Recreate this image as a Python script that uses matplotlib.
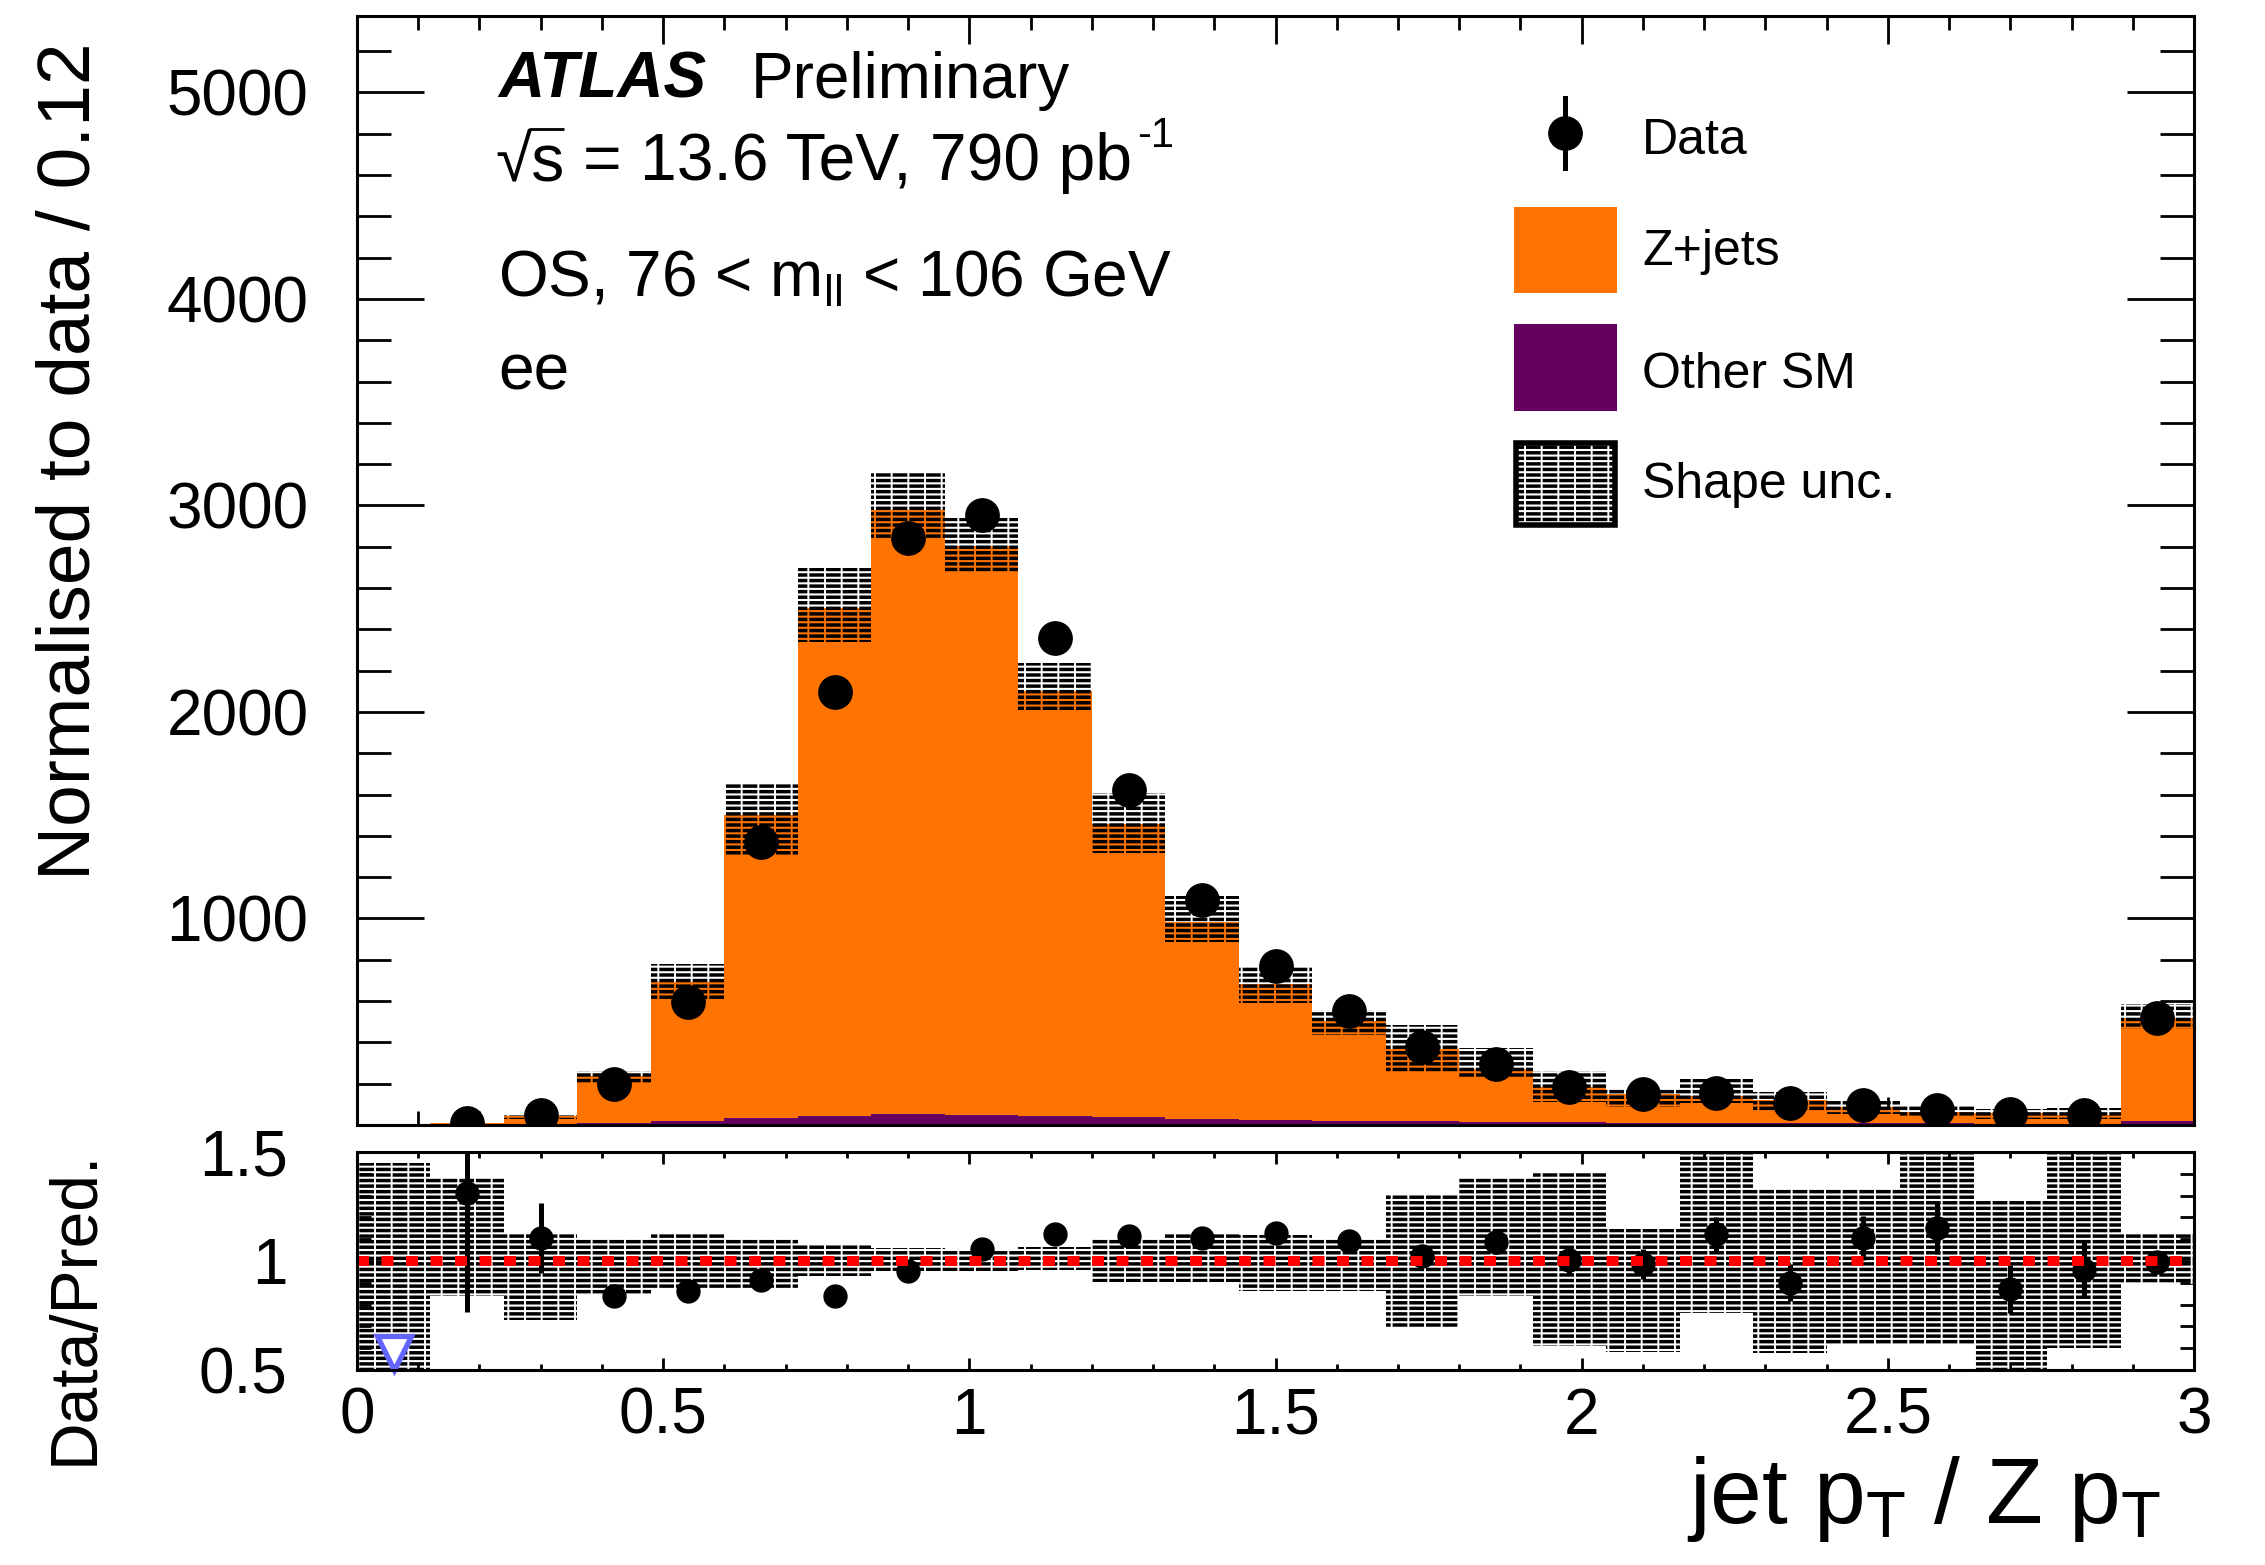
import numpy as np
import matplotlib
matplotlib.use("Agg")
import matplotlib.pyplot as plt
from matplotlib.patches import Rectangle
from matplotlib.lines import Line2D
from matplotlib.transforms import Affine2D
from matplotlib.textpath import TextPath
from matplotlib.font_manager import FontProperties
from matplotlib.ticker import MultipleLocator, FixedLocator, FixedFormatter

plt.rcParams['font.family'] = ['Liberation Sans', 'DejaVu Sans']
plt.rcParams['mathtext.fontset'] = 'custom'
plt.rcParams['mathtext.rm'] = 'Liberation Sans'
plt.rcParams['mathtext.it'] = 'Liberation Sans:italic'
plt.rcParams['mathtext.bf'] = 'Liberation Sans:bold'
plt.rcParams['hatch.linewidth'] = 2.5

# ---------------- data ----------------
bin_edges = np.round(np.arange(26) * 0.12, 2)
zjets = np.array([1, 5, 36, 228, 672, 1468, 2460, 2928, 2755, 2055, 1420, 955, 663,
                  485, 352, 255, 171, 140, 128, 110, 77, 54, 53, 43, 500], float)
other_sm = np.array([2, 4, 6, 10, 20, 32, 45, 52, 50, 45, 38, 30, 22,
                     20, 18, 16, 14, 12, 11, 10, 9, 8, 7, 7, 20], float)
data = np.array([0, 11.8, 46.4, 200, 596, 1368, 2099, 2840, 2954, 2356, 1624, 1090, 772,
                 551, 378, 294, 186, 150, 156, 108, 95, 71.5, 52.3, 48, 518], float)
data_err = np.array([0, 4.9, 6.7, 9.5, 17, 30, 38, 45, 42, 32, 29, 25, 21,
                     18, 15, 14, 12, 10.6, 11, 10.2, 8.6, 7.4, 6.6, 6.5, 21], float)
shape_lo = np.array([0.45, 0.84, 0.73, 0.842, 0.872, 0.872, 0.933, 0.953, 0.953, 0.958, 0.902,
                     0.902, 0.861, 0.861, 0.695, 0.838, 0.611, 0.584, 0.761, 0.577, 0.615,
                     0.615, 0.45, 0.60, 0.896])
shape_hi = np.array([1.45, 1.38, 1.127, 1.10, 1.127, 1.104, 1.076, 1.061, 1.048, 1.065, 1.104,
                     1.125, 1.118, 1.104, 1.306, 1.383, 1.406, 1.148, 1.6, 1.333, 1.333,
                     1.6, 1.276, 1.6, 1.13])
main_yticks = [1000, 2000, 3000, 4000, 5000]
ratio_yticks = [0.5, 1.0, 1.5]
ratio_ylabels = ['0.5', '1', '1.5']
xticks = [0, 0.5, 1, 1.5, 2, 2.5, 3]
xticklabels = ['0', '0.5', '1', '1.5', '2', '2.5', '3']

centers = 0.5 * (bin_edges[:-1] + bin_edges[1:])
total = zjets + other_sm
ratio = data / total
ratio_err = data_err / total

# ---------------- figure ----------------
W, H = 2265, 1565
fig = plt.figure(figsize=(W / 100, H / 100), dpi=100)
px = Affine2D().scale(1 / W, -1 / H).translate(0, 1) + fig.transFigure

ORANGE = '#ff7300'
PURPLE = '#650060'
HATCH = '---'
GAPS = '|'


def thin_gaps(p):
    if hasattr(p, 'set_hatch_linewidth'):
        p.set_hatch_linewidth(1.4)
    return p


def hatched_band(a, hi, lo, z):
    a.stairs(hi, bin_edges, baseline=lo, fill=True, facecolor='none',
             edgecolor='black', hatch=HATCH, lw=0, zorder=z)


def gap_band(a, hi, lo, color, z):
    thin_gaps(a.stairs(hi, bin_edges, baseline=lo, fill=True, facecolor='none',
                       edgecolor=color, hatch=GAPS, lw=0, zorder=z))


L, R = 357, 2194
ax = fig.add_axes([L / W, 1 - 1125 / H, (R - L) / W, (1125 - 16) / H])
rax = fig.add_axes([L / W, 1 - 1370 / H, (R - L) / W, (1370 - 1152) / H])

# main panel
ax.stairs(other_sm, bin_edges, baseline=0, fill=True, color=PURPLE, lw=0, zorder=2)
ax.stairs(total, bin_edges, baseline=other_sm, fill=True, color=ORANGE, lw=0, zorder=2)
band_hi = total * shape_hi
band_lo = total * shape_lo
hatched_band(ax, band_hi, band_lo, 3)
gap_band(ax, band_hi, total, 'white', 3.1)
gap_band(ax, total, np.maximum(band_lo, other_sm), ORANGE, 3.1)
m = data > 0
ax.errorbar(centers[m], data[m], yerr=data_err[m], fmt='o', color='black', ms=24,
            elinewidth=3.6, capsize=0, zorder=5)
ax.set_xlim(0, 3)
ax.set_ylim(0, 5370)

# ratio panel
hatched_band(rax, shape_hi, shape_lo, 2)
gap_band(rax, shape_hi, shape_lo, 'white', 2.1)
ok = ratio >= 0.5
rax.errorbar(centers[ok], ratio[ok], yerr=ratio_err[ok], fmt='o', color='black', ms=16.5,
             elinewidth=3.6, capsize=0, zorder=4)
low = ~ok
rax.plot(centers[low], np.full(low.sum(), 0.5 + 0.08), linestyle='none', marker='v',
         ms=25, mfc='white', mec='#6464ff', mew=3.8, clip_on=False, zorder=6)
rax.axhline(1.0, color='#ff0000', lw=7.2, linestyle=(0, (1.2, 1.25)),
            dash_capstyle='butt', zorder=5)
rax.set_xlim(0, 3)
rax.set_ylim(0.5, 1.5)

# ticks / spines
for a in (ax, rax):
    for s in a.spines.values():
        s.set_linewidth(2.2)
        s.set_zorder(10)
    a.tick_params(which='both', direction='in', top=True, right=True, width=2,
                  labelsize=46)
    a.xaxis.set_major_locator(MultipleLocator(0.5))
    a.xaxis.set_minor_locator(MultipleLocator(0.1))

ax.yaxis.set_major_locator(FixedLocator(main_yticks))
ax.yaxis.set_minor_locator(MultipleLocator(200))
ax.tick_params(axis='x', which='major', length=20, labelbottom=False)
ax.tick_params(axis='x', which='minor', length=10)
ax.tick_params(axis='y', which='major', length=48, pad=35)
ax.tick_params(axis='y', which='minor', length=24.5)

rax.yaxis.set_major_locator(FixedLocator(ratio_yticks))
rax.yaxis.set_major_formatter(FixedFormatter(ratio_ylabels))
rax.yaxis.set_minor_locator(MultipleLocator(0.1))
rax.xaxis.set_major_locator(FixedLocator(xticks))
rax.xaxis.set_major_formatter(FixedFormatter(xticklabels))
rax.tick_params(axis='x', which='major', length=8.6, pad=12)
rax.tick_params(axis='x', which='minor', length=4.3)
rax.tick_params(axis='y', which='major', length=21, pad=50)
rax.tick_params(axis='y', which='minor', length=10)

# axis titles
fig.text(70, 43, 'Normalised to data / 0.12', transform=px, rotation=90,
         ha='center', va='top', fontsize=54)
fig.text(76, 1150, 'Data/Pred.', transform=px, rotation=90,
         ha='center', va='top', fontsize=47.5)
fig.text(2161, 1523, r'jet p$_{\mathrm{T}}$ / Z p$_{\mathrm{T}}$', transform=px,
         ha='right', va='baseline', fontsize=67)

# labels
FS = 46
FS_LUMI = 47.5
fig.text(498, 98, 'ATLAS', transform=px, fontsize=FS, fontweight='bold',
         fontstyle='italic', va='baseline')
fig.text(751, 98, 'Preliminary', transform=px, fontsize=FS, va='baseline')

# sqrt(s) with an overbar
x0, yb = 495, 180
fig.text(x0, yb, '\u221as', transform=px, fontsize=FS_LUMI, va='baseline')
k = 100 / 72
fp = FontProperties(family='Liberation Sans', size=FS_LUMI)
rad = TextPath((0, 0), '\u221a', prop=fp).get_extents()
rads = TextPath((0, 0), '\u221as', prop=fp).get_extents()
bar_y = yb - rad.y1 * k + 1.5
fig.add_artist(Line2D([x0 + rad.x1 * k - 2, x0 + rads.x1 * k + 2], [bar_y, bar_y],
                      transform=px, color='black', lw=2.0, solid_capstyle='butt'))
lumi = fig.text(583, yb, '= 13.6 TeV, 790 pb', transform=px, fontsize=FS_LUMI,
                va='baseline')

fig.text(498, 297, r'OS, 76 < m$_{\mathrm{ll}}$ < 106 GeV', transform=px,
         fontsize=FS, va='baseline')
fig.text(498, 390, 'ee', transform=px, fontsize=FS, va='baseline')

# legend
fig.add_artist(Line2D([1565, 1565], [98, 168], transform=px, color='black', lw=3.6))
fig.add_artist(Line2D([1565], [133], transform=px, color='black', marker='o', ms=24,
                      linestyle='none'))
fig.add_artist(Rectangle((1514, 207), 103, 86, transform=px, facecolor=ORANGE, lw=0))
fig.add_artist(Rectangle((1514, 324), 103, 87, transform=px, facecolor=PURPLE, lw=0))
fig.add_artist(Rectangle((1516, 443), 99, 82, transform=px, facecolor='none',
                         edgecolor='black', hatch=HATCH, lw=0))
fig.add_artist(thin_gaps(Rectangle((1516, 443), 99, 82, transform=px, facecolor='none',
                                   edgecolor='white', hatch=GAPS, lw=0)))
fig.add_artist(Rectangle((1516, 443), 99, 82, transform=px, facecolor='none',
                         edgecolor='black', lw=4))
for txt, ybl in [('Data', 154), ('Z+jets', 265), ('Other SM', 388), ('Shape unc.', 498)]:
    fig.text(1642, ybl, txt, transform=px, fontsize=36, va='baseline')

# superscript of the luminosity unit
fig.canvas.draw()
bb = lumi.get_window_extent()
fig.text(bb.x1 + 5, 147, '-1', transform=px, fontsize=30, va='baseline')

fig.savefig('out.png', dpi=100)
